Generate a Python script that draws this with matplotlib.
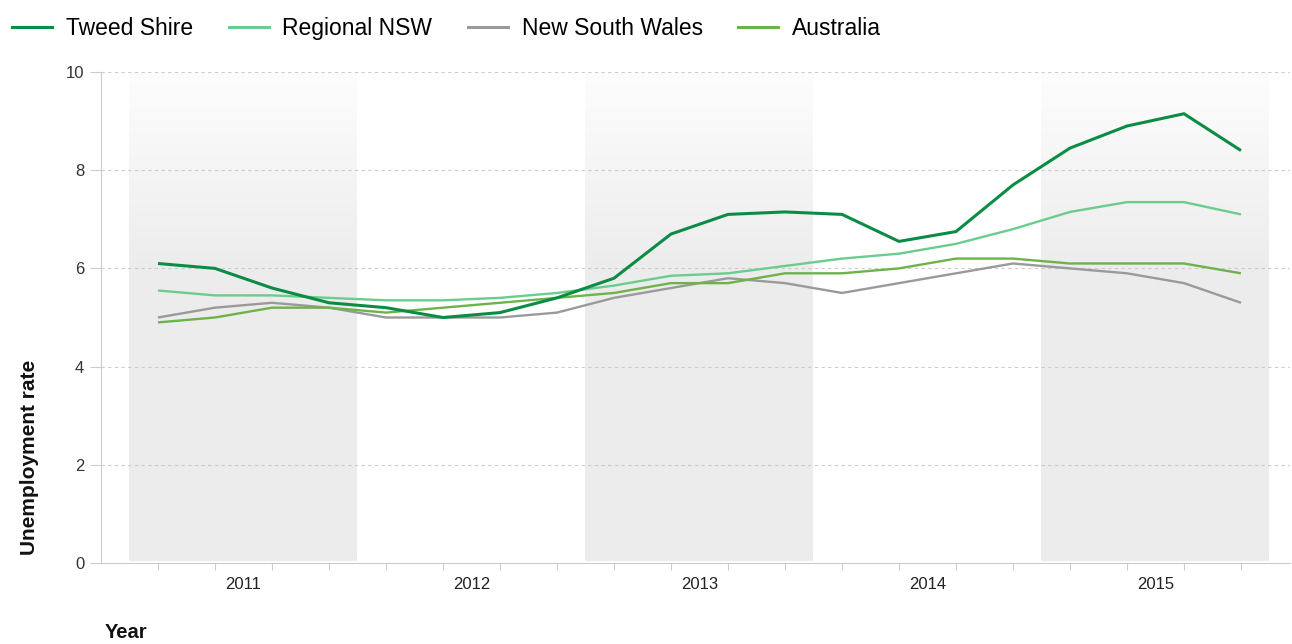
import numpy as np
import matplotlib
matplotlib.use("Agg")
import matplotlib.pyplot as plt
from matplotlib.lines import Line2D
from matplotlib.colors import LinearSegmentedColormap

plt.rcParams['font.family'] = ['Liberation Sans', 'DejaVu Sans']

years = ["2011", "2012", "2013", "2014", "2015"]
quarters_per_year = 4
series_names = ["Tweed Shire", "Regional NSW", "New South Wales", "Australia"]
tweed = [6.1, 6.0, 5.6, 5.3, 5.2, 5.0, 5.1, 5.4, 5.8, 6.7, 7.1, 7.15, 7.1, 6.55, 6.75, 7.7, 8.45, 8.9, 9.15, 8.4]
regional = [5.55, 5.45, 5.45, 5.4, 5.35, 5.35, 5.4, 5.5, 5.65, 5.85, 5.9, 6.05, 6.2, 6.3, 6.5, 6.8, 7.15, 7.35, 7.35, 7.1]
nsw = [5.0, 5.2, 5.3, 5.2, 5.0, 5.0, 5.0, 5.1, 5.4, 5.6, 5.8, 5.7, 5.5, 5.7, 5.9, 6.1, 6.0, 5.9, 5.7, 5.3]
australia = [4.9, 5.0, 5.2, 5.2, 5.1, 5.2, 5.3, 5.4, 5.5, 5.7, 5.7, 5.9, 5.9, 6.0, 6.2, 6.2, 6.1, 6.1, 6.1, 5.9]
colors = ["#0b8c45", "#6acd8e", "#9a9a9a", "#6cb34a"]

fig = plt.figure(figsize=(12.92, 6.44), dpi=100)
ax = fig.add_axes([101/1292, 1-563/644, (1290-101)/1292, (563-72)/644])

n = len(tweed)
x = np.arange(n)

# shaded alternate years with vertical gradient (lighter at top)
grad = np.concatenate([np.ones(150), np.linspace(1, 0, 106)]).reshape(-1, 1)
cmap = LinearSegmentedColormap.from_list("g", ["#fdfdfd", "#ececec"])
for yi in range(0, len(years), 2):
    x0 = yi*quarters_per_year - 0.5
    x1 = x0 + quarters_per_year
    ax.imshow(grad, extent=[x0, x1, 0.05, 10], aspect='auto', cmap=cmap,
              origin='lower', zorder=0, vmin=0, vmax=1)

for yv in [2, 4, 6, 8, 10]:
    ax.axhline(yv, color="#cccccc", lw=0.8, ls=(0, (3, 3)), zorder=1)

for vals, c, name in zip([tweed, regional, nsw, australia], colors, series_names):
    lw = 2.2 if name == "Tweed Shire" else 1.7
    ax.plot(x, vals, color=c, lw=lw, zorder=3 if name == "Tweed Shire" else 2,
            solid_capstyle='butt', solid_joinstyle='miter')

ax.set_xlim(-1, 19.86)
ax.set_ylim(0, 10)

ax.set_xticks(x)
ax.set_xticklabels([])
ax.tick_params(axis='x', which='major', length=5, color="#cccccc", width=0.8)
centers = [yi*quarters_per_year + 1.5 for yi in range(len(years))]
ax.set_xticks(centers, minor=True)
ax.set_xticklabels(years, minor=True, fontsize=12, color="#222222")
ax.tick_params(axis='x', which='minor', length=0, pad=10)

ax.set_yticks([0, 2, 4, 6, 8, 10])
ax.set_yticklabels(["0", "2", "4", "6", "8", "10"], fontsize=12, color="#333333")
ax.tick_params(axis='y', length=8, color="#cccccc", width=0.8, pad=4)

for s in ["top", "right"]:
    ax.spines[s].set_visible(False)
for s in ["left", "bottom"]:
    ax.spines[s].set_color("#cccccc")
    ax.spines[s].set_linewidth(0.8)

fig.text(30/1292, 1-457/644, "Unemployment rate", rotation=90, fontsize=15,
         fontweight='bold', ha='center', va='center', color="#111111")
fig.text(105/1292, 1-633/644, "Year", fontsize=14.5, fontweight='bold',
         ha='left', va='center', color="#111111")

handles = [Line2D([0], [0], color=c, lw=2.2) for c in colors]
fig.legend(handles, series_names, loc='upper left', bbox_to_anchor=(12/1292, 1-17/644),
           ncol=4, frameon=False, fontsize=16.5, handlelength=1.75, handletextpad=0.6,
           columnspacing=1.55, borderaxespad=0, borderpad=0)

fig.savefig("out.png", dpi=100, facecolor="white")
